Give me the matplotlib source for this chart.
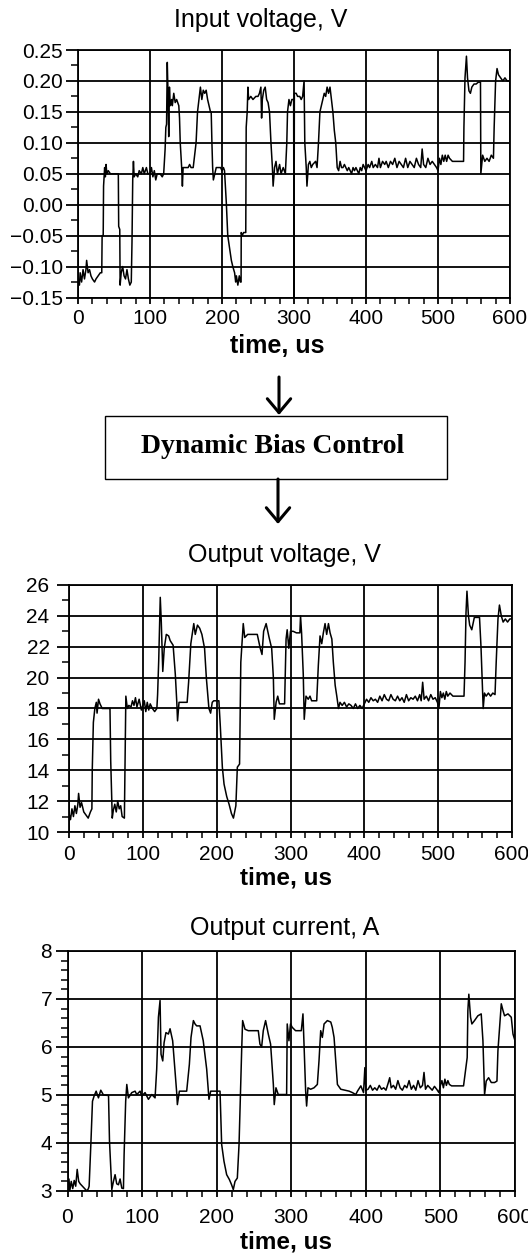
import matplotlib
matplotlib.use("Agg")
import matplotlib.pyplot as plt
from matplotlib.ticker import MultipleLocator, FuncFormatter
from matplotlib.patches import FancyArrowPatch, Rectangle

plt.rcParams['font.family'] = ['Liberation Sans', 'DejaVu Sans']

# ---- input voltage, V
t_in = [0, 2, 3, 5, 7, 9, 11, 12, 14, 16, 18, 20, 23, 25, 28, 31, 33,
        33.5, 35, 35.5, 37, 38, 39, 40, 42, 45, 50, 56,
        56.5, 58, 58.5, 60, 62, 64, 66, 68, 70, 72, 74,
        75, 76, 77, 78, 80, 83, 85, 88, 90, 92, 95, 97, 100, 102, 104, 106, 108, 110, 114, 117, 119,
        120, 121, 122, 123, 124, 125, 126, 127, 128, 130, 131, 133, 135, 137, 140, 141, 142, 144, 145, 146, 150,
        153, 155, 157, 160, 162, 164, 166, 168, 170, 172, 174, 176, 178, 180, 182, 184, 185, 186, 187, 188, 190,
        192, 195, 198, 200, 202,
        203.5, 206, 208, 210.5, 213, 215, 217.5, 219, 220, 222, 224, 225.5, 226.5, 226.7, 228, 230, 233, 233.6,
        235, 236, 237,
        240, 243, 247, 250, 252, 254, 255, 256, 258, 260, 262, 264, 266, 268, 270, 271, 273, 275, 277, 280, 282,
        285, 288,
        290, 291, 293, 295, 297, 299.5, 300, 300.5, 303, 305, 308, 310, 312, 314, 315, 317, 318, 320,
        322, 324, 326, 330, 332, 334, 336, 338, 340, 342, 344, 346, 348, 350, 352, 354, 356, 358, 360, 362,
        364, 366, 368, 370, 372, 374, 376, 378, 380, 382, 384, 386, 388, 390, 392, 394, 396, 398, 400,
        403, 405, 408, 410, 413, 416, 418, 420, 423, 426, 428, 431, 434, 437, 440, 443, 446, 449, 452, 455,
        458, 461, 464, 467, 470, 473, 476, 478, 480, 483, 486, 489, 492, 495, 498, 500,
        502, 504, 506, 508, 510, 512, 514, 516, 520, 525, 530, 535.5, 536, 537.5, 539.5, 541, 543, 545, 547,
        550, 553, 556, 559, 559.5, 562, 565, 568, 571, 574, 577, 578, 580, 582, 584, 587, 590, 593, 596, 600, 600]
v_in = [-0.12, -0.13, -0.11, -0.125, -0.105, -0.12, -0.105, -0.09, -0.11, -0.105, -0.115, -0.12, -0.125, -0.12,
        -0.115, -0.11, -0.11,
        -0.05, -0.05, 0.03, 0.06, 0.045, 0.065, 0.05, 0.055, 0.05, 0.05, 0.05,
        -0.035, -0.04, -0.13, -0.11, -0.10, -0.115, -0.12, -0.105, -0.12, -0.13, -0.125,
        -0.06, 0.04, 0.07, 0.045, 0.05, 0.045, 0.055, 0.05, 0.06, 0.05, 0.06, 0.05, 0.05, 0.06, 0.045, 0.055, 0.04,
        0.05, 0.05, 0.045, 0.05,
        0.07, 0.09, 0.125, 0.13, 0.23, 0.18, 0.11, 0.19, 0.16, 0.17, 0.16, 0.18, 0.165, 0.17, 0.16, 0.14, 0.10,
        0.06, 0.03, 0.06, 0.06,
        0.06, 0.065, 0.06, 0.06, 0.08, 0.10, 0.15, 0.17, 0.19, 0.17, 0.185, 0.18, 0.185, 0.17, 0.16, 0.15, 0.15,
        0.10, 0.06, 0.04, 0.05,
        0.06, 0.06, 0.06, 0.055, 0.06,
        0.055, 0.003, -0.05, -0.07, -0.09, -0.10, -0.11, -0.125, -0.115, -0.13, -0.115, -0.125, -0.125, -0.045,
        -0.05, -0.045, -0.045, 0.125,
        0.15, 0.19, 0.17,
        0.175, 0.17, 0.175, 0.175, 0.18, 0.19, 0.14, 0.17, 0.185, 0.19, 0.17, 0.165, 0.15, 0.10, 0.06, 0.03, 0.06,
        0.07, 0.05, 0.065, 0.05,
        0.06, 0.05,
        0.10, 0.15, 0.17, 0.16, 0.17, 0.17, -0.15, 0.18, 0.18, 0.175, 0.175, 0.17, 0.175, 0.20, 0.10, 0.06, 0.03, 0.065,
        0.07, 0.06, 0.065, 0.07, 0.06, 0.10, 0.15, 0.16, 0.17, 0.18, 0.175, 0.19, 0.18, 0.19, 0.17, 0.15, 0.12,
        0.10, 0.06, 0.055,
        0.07, 0.06, 0.06, 0.065, 0.06, 0.055, 0.06, 0.055, 0.05, 0.06, 0.055, 0.06, 0.055, 0.05, 0.06, 0.055,
        0.065, 0.06, 0.055,
        0.065, 0.06, 0.07, 0.06, 0.065, 0.06, 0.075, 0.06, 0.07, 0.065, 0.07, 0.06, 0.07, 0.065, 0.075, 0.06,
        0.07, 0.065, 0.06, 0.075,
        0.06, 0.07, 0.065, 0.06, 0.075, 0.065, 0.06, 0.09, 0.065, 0.06, 0.075, 0.065, 0.07, 0.065, 0.06, 0.055,
        0.075, 0.065, 0.08, 0.07, 0.08, 0.07, 0.08, 0.075, 0.07, 0.07, 0.07, 0.07, 0.125, 0.205, 0.24, 0.205,
        0.184, 0.18, 0.19,
        0.195, 0.195, 0.198, 0.198, 0.05, 0.08, 0.07, 0.075, 0.07, 0.08, 0.075, 0.125, 0.20, 0.22, 0.21, 0.205,
        0.20, 0.205, 0.20, 0.20, 0.15]

# ---- output voltage, V (middle panel)
t_vout = [0, 2, 4, 6, 8, 10, 12, 13, 15, 17, 20, 23, 26, 29, 31,
          31.5, 33, 35, 37, 38, 40, 42, 45, 55.5,
          56.5, 58.6, 60, 62, 64, 66, 68, 70, 72, 75,
          77, 79, 81, 84, 86, 88, 90, 92, 95, 98, 100, 102, 104, 106, 108, 110, 113, 116, 119,
          120, 121.5, 123.6, 125, 127, 129, 131.8, 135, 137, 141, 144, 146, 147, 149, 160,
          162, 165, 169, 171, 174, 177, 180, 183.6, 186, 189.5, 191.8, 194, 196, 203,
          205, 207.7, 210, 213.6, 216.8, 220, 222.7, 226, 228, 231, 232.7, 236, 238, 242, 255,
          259, 261.4, 263.6, 267, 271, 274.5, 276.8, 278, 280.5, 282.7, 285, 292,
          293, 294, 295.5, 297.7, 300, 303.6, 308, 312.7, 313.6, 315, 317.3, 318.6, 321, 324, 326.4, 328.6, 335.5,
          337.7, 340, 342.3, 344.5, 346.8, 349, 351.4, 353.6, 356, 358, 360.5, 362.7, 365, 367,
          370, 373, 376, 379, 382, 385, 388, 391, 394, 397, 400, 403, 406, 409, 412, 415, 418, 421, 424, 427,
          430, 433, 436, 439, 442, 445, 448, 451, 454, 457, 460, 463, 466, 469, 472, 475, 477, 479, 481, 484,
          487, 490, 493, 496, 499, 501, 503, 505, 507, 509, 511, 513, 516, 520, 525, 530, 535,
          536.4, 537.7, 539, 541, 542.7, 545.5, 549, 556, 558, 561, 562.7, 565, 568, 571, 574, 577,
          578.6, 581, 583, 585.5, 588, 591, 594, 597, 600, 600]
v_out = [11.2, 10.8, 11.5, 11.0, 11.7, 11.2, 11.8, 12.5, 11.6, 11.9, 11.3, 11.1, 10.9, 11.3, 11.5,
         14.0, 17.1, 18.0, 18.4, 17.7, 18.6, 18.3, 18.0, 18.0,
         14.6, 10.9, 11.4, 11.8, 11.3, 12.0, 11.5, 11.7, 11.0, 10.9,
         18.8, 18.0, 18.2, 18.1, 18.5, 18.2, 18.7, 18.1, 18.6, 17.9, 18.2, 18.5, 17.8, 18.4, 17.9, 18.3, 18.0,
         17.8, 18.0,
         18.9, 21.1, 25.2, 23.6, 20.4, 21.9, 22.8, 22.7, 22.4, 22.1, 20.2, 18.4, 17.2, 18.4, 18.4,
         19.7, 22.2, 23.5, 22.8, 23.4, 23.2, 22.8, 21.9, 20.0, 18.0, 17.7, 18.4, 18.5, 18.5,
         16.8, 14.2, 13.1, 12.3, 11.8, 11.2, 10.9, 11.7, 14.2, 14.4, 21.0, 23.5, 22.6, 22.8, 22.8,
         21.9, 21.5, 23.0, 23.5, 22.6, 21.9, 20.0, 17.3, 18.4, 18.8, 18.3, 18.3,
         20.5, 22.5, 23.1, 21.9, 23.0, 23.0, 22.9, 22.9, 24.0, 22.9, 20.2, 17.3, 18.8, 18.6, 18.8, 18.5, 18.5,
         20.8, 22.7, 22.2, 22.9, 23.5, 22.8, 23.5, 22.9, 22.5, 21.0, 19.5, 18.8, 18.0, 18.4,
         18.2, 18.4, 18.1, 18.3, 18.2, 18.0, 18.3, 18.0, 18.2, 18.0, 18.3, 18.6, 18.4, 18.7, 18.5, 18.6, 18.4,
         18.8, 18.5, 18.9,
         18.6, 18.5, 18.9, 18.6, 18.5, 18.8, 18.5, 18.7, 18.4, 18.9, 18.5, 18.7, 18.6, 18.8, 18.5, 18.9, 18.5,
         19.7, 18.6, 18.8,
         18.5, 18.9, 18.6, 18.7, 18.4, 18.0, 19.1, 18.7, 19.0, 18.6, 19.1, 18.8, 19.0, 18.8, 18.8, 18.8, 18.8,
         21.0, 24.2, 25.6, 24.0, 23.4, 23.1, 23.9, 23.9, 22.0, 18.0, 19.0, 18.8, 19.0, 18.8, 19.0, 18.9,
         21.0, 23.8, 24.7, 24.0, 23.6, 23.8, 23.6, 23.8, 23.8, 22.1]

# ---- output current, A (bottom panel)
t_iout = [0, 2, 3, 5, 7, 9, 11, 13, 15, 17, 20, 23, 26, 28, 29,
          31.3, 33.5, 35.7, 38.4, 41.5, 44.6, 48.2, 55,
          56.3, 59.4, 61.6, 63.8, 66, 68.3, 70.5, 72.8, 75,
          75.9, 78, 79.5, 81.7, 86.2, 90.6, 92.9, 97.3, 99.6, 104, 108.5, 113, 117.4,
          119.6, 121.9, 124.1, 125.4, 127.7, 129.5, 132, 135.3, 137.5, 141, 144.2, 146.4, 147.3, 150, 159.8,
          163.4, 165.6, 168.8, 171, 173.2, 177.7, 182, 186.6, 189.7, 192, 204.5,
          206.7, 209.8, 213.4, 217, 220, 222.3, 224.6, 227.7, 230, 233.5, 234.8, 238, 242.4, 255.8,
          258, 260.3, 262.5, 265.6, 269.2, 272.3, 276, 277.2, 279.5, 282.6, 293.8,
          294.6, 296.9, 298.2, 299, 301.3, 305.8, 313.5, 315.7, 317, 319.3, 320.6, 322.4, 326, 330.5, 335,
          337.2, 339.5, 341.7, 344, 348.4, 353, 355, 357.4, 359.6, 361.9, 366.4, 377.6, 382, 386.5, 388.8,
          393.3, 396.9, 398.7, 400,
          403, 406, 409, 412, 415, 418, 421, 424, 427, 430, 432, 434, 437, 440, 443, 446, 449, 452, 455, 458,
          461, 464, 467, 470, 473, 476, 478, 480, 483, 486, 489, 492, 495, 498, 500, 502, 504, 506, 508, 510,
          512, 515, 520, 525, 531,
          535.9, 536.8, 538.1, 540.4, 542.2, 545.7, 550.2, 554.7, 557, 559.2, 561.4, 564.6, 568.2, 572.6, 575.8,
          577.1, 579.4, 581.6, 583.9, 586, 590.6, 595, 597.3, 600]
i_out = [3.1, 3.25, 3.0, 3.2, 3.05, 3.22, 3.1, 3.45, 3.2, 3.15, 3.1, 3.05, 3.0, 3.05, 3.1,
         3.97, 4.87, 4.98, 5.08, 4.94, 5.10, 5.0, 4.99,
         4.04, 3.03, 3.2, 3.34, 3.15, 3.13, 3.25, 3.06, 3.05,
         3.76, 4.87, 5.22, 4.94, 5.05, 5.08, 5.01, 5.08, 4.98, 5.05, 4.91, 5.01, 4.94,
         5.54, 6.62, 6.97, 5.85, 5.71, 6.09, 6.3, 6.27, 6.38, 6.13, 5.5, 5.05, 4.8, 5.08, 5.08,
         5.64, 6.2, 6.55, 6.48, 6.44, 6.44, 6.13, 5.54, 4.91, 5.08, 5.08,
         3.97, 3.62, 3.34, 3.24, 3.13, 3.03, 3.2, 3.27, 3.97, 5.92, 6.55, 6.37, 6.34, 6.34,
         6.06, 6.0, 6.34, 6.55, 6.27, 6.06, 5.22, 4.8, 5.15, 5.01, 5.01,
         6.48, 6.13, 6.34, 6.48, 6.41, 6.34, 6.34, 6.69, 6.13, 5.08, 4.77, 5.15, 5.12, 5.15, 5.22,
         5.71, 6.34, 6.2, 6.48, 6.55, 6.52, 6.41, 6.2, 5.71, 5.22, 5.12, 5.08, 5.05, 5.01, 5.08,
         5.19, 5.05, 5.57, 5.1,
         5.12, 5.2, 5.1, 5.15, 5.1, 5.2, 5.12, 5.15, 5.1, 5.25, 5.36, 5.15, 5.2, 5.12, 5.3, 5.15, 5.1, 5.2, 5.15,
         5.3,
         5.12, 5.2, 5.1, 5.3, 5.15, 5.2, 5.47, 5.12, 5.2, 5.15, 5.1, 5.18, 5.12, 5.05, 5.2, 5.3, 5.15, 5.33, 5.2,
         5.3,
         5.22, 5.19, 5.19, 5.19, 5.19,
         5.78, 6.76, 7.1, 6.62, 6.48, 6.55, 6.65, 6.69, 6.13, 5.01, 5.29, 5.36, 5.26, 5.26, 5.29,
         5.92, 6.41, 6.9, 6.76, 6.65, 6.69, 6.62, 6.27, 6.13]

W, H = 528, 1254
fig = plt.figure(figsize=(W / 100, H / 100), dpi=100)


def box(left, top, right, bottom):
    return [left / W, 1 - bottom / H, (right - left) / W, (bottom - top) / H]


def style_axes(ax, ylim, ymaj, ymin, fmt, ypad, xpad):
    ax.set_xlim(0, 600)
    ax.set_ylim(*ylim)
    ax.xaxis.set_major_locator(MultipleLocator(100))
    ax.xaxis.set_minor_locator(MultipleLocator(20))
    ax.yaxis.set_major_locator(MultipleLocator(ymaj))
    ax.yaxis.set_minor_locator(MultipleLocator(ymin))
    ax.yaxis.set_major_formatter(FuncFormatter(lambda v, p: fmt(v)))
    ax.grid(which='major', color='black', lw=1.3)
    for s in ax.spines.values():
        s.set_linewidth(1.3)
    ax.tick_params(axis='y', which='major', direction='out', length=9, width=1.3,
                   labelsize=15, pad=ypad)
    ax.tick_params(axis='y', which='minor', direction='out', length=5, width=1.1)
    ax.tick_params(axis='x', which='major', direction='out', length=4.5, width=1.3,
                   labelsize=15, pad=xpad)
    ax.tick_params(axis='x', which='minor', direction='out', length=4, width=1.1)


def fmt_in(v):
    s = f"{v:.2f}"
    if s == "-0.00":
        s = "0.00"
    return s.replace('-', '\u2212')


def fmt_int(v):
    return f"{v:.0f}"


# top panel
ax1 = fig.add_axes(box(78, 50, 510, 297.5))
ax1.plot(t_in, v_in, color='black', lw=1.1)
style_axes(ax1, (-0.15, 0.25), 0.05, 0.025, fmt_in, 2, 4)
fig.text(261 / W, 1 - 20 / H, "Input voltage, V", ha='center', va='center', fontsize=18)
fig.text(277 / W, 1 - 346 / H, "time, us", ha='center', va='center', fontsize=18, fontweight='bold')

# middle panel
ax2 = fig.add_axes(box(69, 585, 512, 832))
ax2.plot(t_vout, v_out, color='black', lw=1.1)
style_axes(ax2, (10, 26), 2, 1, fmt_int, 5, 5)
fig.text(284 / W, 1 - 555 / H, "Output voltage, V", ha='center', va='center', fontsize=18)
fig.text(286 / W, 1 - 878 / H, "time, us", ha='center', va='center', fontsize=17.5, fontweight='bold')

# bottom panel
ax3 = fig.add_axes(box(67.5, 951, 515, 1191))
ax3.plot(t_iout, i_out, color='black', lw=1.1)
style_axes(ax3, (3, 8), 1, 0.2, fmt_int, 2, 8)
fig.text(285 / W, 1 - 928 / H, "Output current, A", ha='center', va='center', fontsize=18)
fig.text(286 / W, 1 - 1242 / H, "time, us", ha='center', va='center', fontsize=17.5, fontweight='bold')

# block diagram between the panels
fig.add_artist(Rectangle((105 / W, 1 - 479 / H), (447 - 105) / W, (479 - 416) / H,
                         transform=fig.transFigure, fill=False, ec='black', lw=1.0))
fig.text(273 / W, 1 - 447 / H, "Dynamic Bias Control", ha='center', va='center',
         fontsize=20, fontweight='bold', family='Liberation Serif')
for xa, y0, y1 in [(279, 377, 415), (278, 479, 524)]:
    fig.add_artist(FancyArrowPatch((xa / W, 1 - y0 / H), (xa / W, 1 - y1 / H),
                                   transform=fig.transFigure,
                                   arrowstyle='->,head_length=0.5,head_width=0.42',
                                   mutation_scale=20, lw=2.2, color='black',
                                   shrinkA=0, shrinkB=0))

fig.savefig("out.png", dpi=100)
